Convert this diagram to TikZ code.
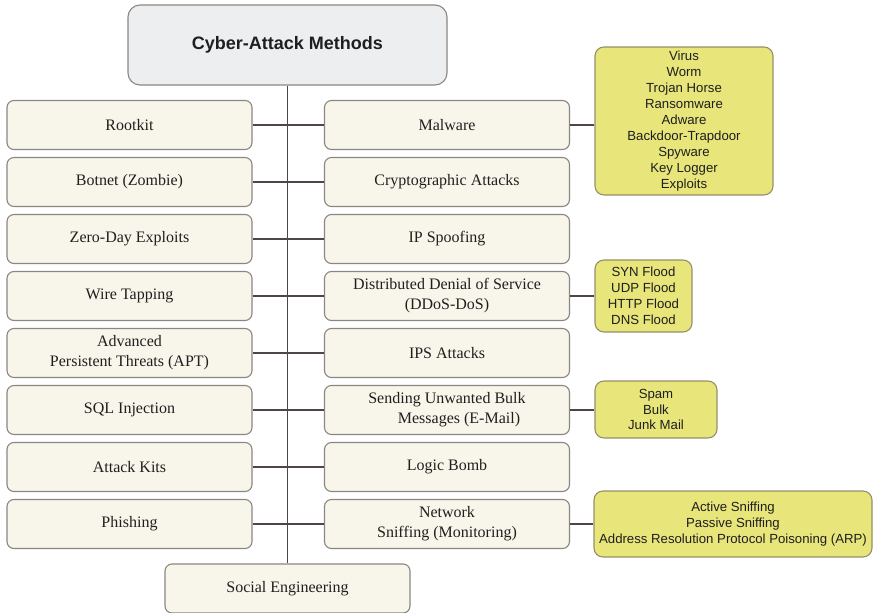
\documentclass[tikz,border=0pt]{standalone}
\usepackage{fontspec}
\setmainfont{Liberation Serif}
\newfontfamily\listfont{Liberation Sans}
\definecolor{boxfill}{RGB}{248,246,234}
\definecolor{boxline}{RGB}{140,134,128}
\definecolor{headfill}{RGB}{237,238,240}
\definecolor{listfill}{RGB}{232,229,122}
\definecolor{listline}{RGB}{150,144,104}
\definecolor{wire}{RGB}{78,70,70}
\tikzset{
	method/.style={draw=boxline, fill=boxfill, line width=1.1pt, rounded corners=7pt,
		minimum width=245pt, minimum height=49pt, align=center,
		font=\fontsize{16}{20}\selectfont, text=black!88},
	headbox/.style={method, fill=headfill, rounded corners=12pt,
		minimum width=319pt, minimum height=80pt,
		font=\listfont\bfseries\fontsize{18}{22}\selectfont},
	listbox/.style={draw=listline, fill=listfill, line width=1.1pt, rounded corners=9pt,
		align=center, inner sep=0pt, text=black!88,
		font=\listfont\fontsize{13.2}{15.9}\selectfont},
	link/.style={draw=wire, line width=1.1pt}
}
\begin{document}
\begin{tikzpicture}[x=1pt,y=-1pt]
	\useasboundingbox (0,0) rectangle (873,613);
	% title and bottom item on the trunk
	\node[headbox] (head) at (287.5,45) {Cyber-Attack Methods};
	\node[method] (social) at (287.5,588.5) {Social Engineering};
	% left column
	\node[method] (rootkit) at (129.5,125) {Rootkit};
	\node[method] (botnet) at (129.5,182) {Botnet (Zombie)};
	\node[method] (zeroday) at (129.5,239) {Zero-Day Exploits};
	\node[method] (wiretap) at (129.5,296) {Wire Tapping};
	\node[method] (apt) at (129.5,353) {Advanced\\ Persistent Threats (APT)};
	\node[method] (sqli) at (129.5,410) {SQL Injection};
	\node[method] (kits) at (129.5,467) {Attack Kits};
	\node[method] (phishing) at (129.5,524) {Phishing};
	% right column
	\node[method] (malware) at (447,125) {Malware};
	\node[method] (crypto) at (447,182) {Cryptographic Attacks};
	\node[method] (ipspoof) at (447,239) {IP Spoofing};
	\node[method] (ddos) at (447,296) {Distributed Denial of Service\\ (DDoS-DoS)};
	\node[method] (ips) at (447,353) {IPS Attacks};
	\node[method] (bulkmail) at (447,410) {Sending Unwanted Bulk\\ \hspace*{1.5em}Messages (E-Mail)};
	\node[method] (logic) at (447,467) {Logic Bomb};
	\node[method] (sniff) at (447,524) {Network\\ Sniffing (Monitoring)};
	% sub-lists
	\node[listbox, minimum width=178pt, minimum height=148pt] (malwarelist) at (684,121)
		{Virus\\ Worm\\ Trojan Horse\\ Ransomware\\ Adware\\ Backdoor-Trapdoor\\ Spyware\\ Key Logger\\ Exploits};
	\node[listbox, minimum width=97pt, minimum height=72pt] (ddoslist) at (643.5,296)
		{SYN Flood\\ UDP Flood\\ HTTP Flood\\ DNS Flood};
	\node[listbox, minimum width=122pt, minimum height=57pt] (bulklist) at (656,409.5)
		{Spam\\ Bulk\\ Junk Mail};
	\node[listbox, minimum width=278pt, minimum height=66pt] (snifflist) at (733,524)
		{Active Sniffing\\ Passive Sniffing\\ Address Resolution Protocol Poisoning (ARP)};
	% connectors
	\draw[link] (head) -- (social);
	\foreach \l/\r in {rootkit/malware, botnet/crypto, zeroday/ipspoof, wiretap/ddos,
		apt/ips, sqli/bulkmail, kits/logic, phishing/sniff}
		\draw[link] (\l) -- (\r);
	\draw[link] (malware.east) -- (malware.east -| malwarelist.west);
	\draw[link] (ddos) -- (ddoslist);
	\draw[link] (bulkmail.east) -- (bulkmail.east -| bulklist.west);
	\draw[link] (sniff) -- (snifflist);
\end{tikzpicture}
\end{document}
